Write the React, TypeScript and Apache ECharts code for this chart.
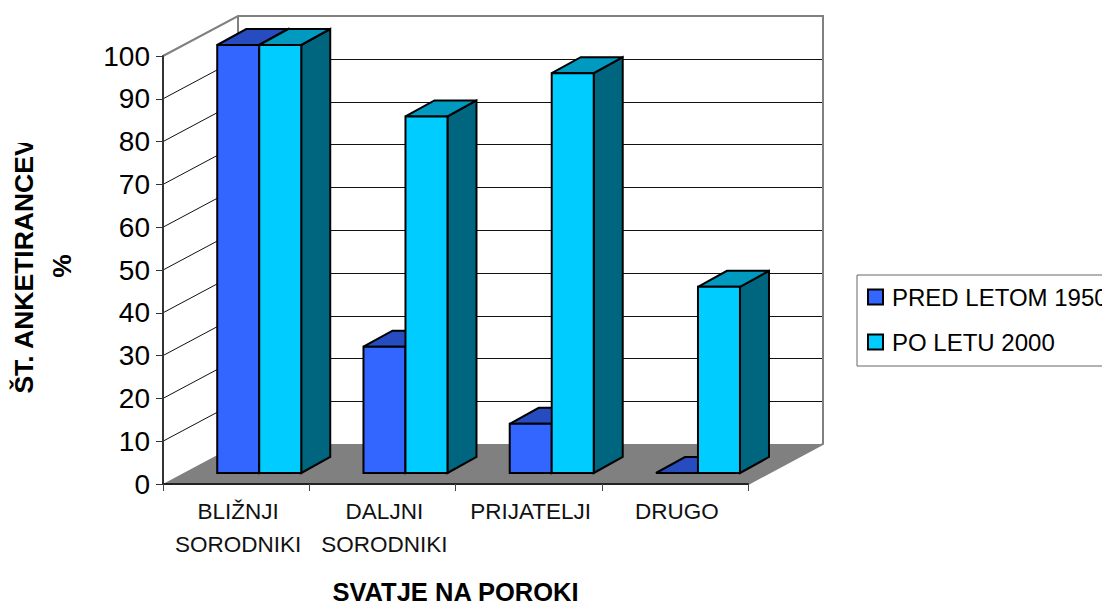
import React, { useEffect, useRef } from "react";
import * as echarts from "echarts";

const categories = ["BLIŽNJI\nSORODNIKI", "DALJNI\nSORODNIKI", "PRIJATELJI", "DRUGO"];
const before1950 = [100, 29.5, 11.5, 0];
const after2000 = [100, 83.3, 93.4, 43.5];
const wallTicks = [10, 20, 30, 40, 50, 60, 70, 80, 90];
const seriesNames = ["PRED LETOM 1950", "PO LETU 2000"];
const yName = "ŠT. ANKETIRANCEV\n%";
const xName = "SVATJE NA POROKI";

const FONT = "'Liberation Sans', Arial, sans-serif";
const WALL_DX = 75;
const WALL_DY = -40;
const BAR_DX = 29;
const BAR_DY = -16;
const FLOOR_DX = 20;
const FLOOR_DY = -11;
const GROUP_SHIFT = -38.9;
const BAR_W = 42;
const GRAY = "#808080";

function snap(v: number) {
  return Math.round(v) + 0.5;
}

function barRenderer(slot: number, front: string, top: string, side: string) {
  return (_p: any, api: any) => {
    const c = api.coord([api.value(0), api.value(1)]);
    const b = api.coord([api.value(0), 0]);
    const x0 = c[0] + GROUP_SHIFT + FLOOR_DX + slot * BAR_W;
    const x1 = x0 + BAR_W;
    const yTop = c[1] + FLOOR_DY;
    const yBase = b[1] + FLOOR_DY;
    const stroke = { stroke: "#000", lineWidth: 2, lineJoin: "miter" };
    const poly = (points: number[][], fill: string) => ({
      type: "polygon",
      shape: { points },
      style: { fill, ...stroke },
    });
    return {
      type: "group",
      children: [
        poly(
          [[x1, yBase], [x1 + BAR_DX, yBase + BAR_DY], [x1 + BAR_DX, yTop + BAR_DY], [x1, yTop]],
          side
        ),
        poly(
          [[x0, yTop], [x0 + BAR_DX, yTop + BAR_DY], [x1 + BAR_DX, yTop + BAR_DY], [x1, yTop]],
          top
        ),
        poly([[x0, yBase], [x1, yBase], [x1, yTop], [x0, yTop]], front),
      ],
    };
  };
}

function wallLineRenderer(_p: any, api: any) {
  const w = api.size([1, 0])[0];
  const left = api.coord([0, api.value(0)])[0] - w / 2;
  const right = api.coord([categories.length - 1, api.value(0)])[0] + w / 2;
  const y = api.coord([0, api.value(0)])[1];
  const line = (x1: number, y1: number, x2: number, y2: number) => ({
    type: "line",
    shape: { x1, y1, x2, y2 },
    style: { stroke: "#111", lineWidth: 1 },
  });
  const by = snap(y + WALL_DY);
  return {
    type: "group",
    children: [
      line(left, y, left + WALL_DX, y + WALL_DY),
      line(left + WALL_DX, by, right + WALL_DX, by),
    ],
  };
}

function frameRenderer(_p: any, api: any) {
  const w = api.size([1, 0])[0];
  const left = api.coord([0, 0])[0] - w / 2;
  const right = api.coord([categories.length - 1, 0])[0] + w / 2;
  const y0 = api.coord([0, 0])[1];
  const y100 = api.coord([0, 100])[1];
  const st = { stroke: GRAY, lineWidth: 2, fill: "none" };
  return {
    type: "group",
    children: [
      {
        type: "polygon",
        shape: {
          points: [[left, y0], [left + WALL_DX, y0 + WALL_DY], [right + WALL_DX, y0 + WALL_DY], [right, y0]],
        },
        style: { fill: GRAY },
      },
      {
        type: "polyline",
        shape: {
          points: [
            [left, y100],
            [left + WALL_DX, y100 + WALL_DY],
            [right + WALL_DX, y100 + WALL_DY],
            [right + WALL_DX, y0 + WALL_DY],
            [right, y0],
          ],
        },
        style: st,
      },
      {
        type: "line",
        shape: { x1: left + WALL_DX, y1: y100 + WALL_DY, x2: left + WALL_DX, y2: y0 + WALL_DY },
        style: { stroke: GRAY, lineWidth: 2 },
      },
    ],
  };
}

export default function App() {
  const ref = useRef<HTMLDivElement>(null);
  useEffect(() => {
    const chart = echarts.init(ref.current!, undefined, { renderer: "svg" });
    chart.setOption({
      animation: false,
      backgroundColor: "#fff",
      textStyle: { fontFamily: FONT },
      grid: { left: 163, top: 56, width: 585, height: 428, containLabel: false, outerBoundsMode: "none" },
      xAxis: {
        type: "category",
        data: categories,
        z: 3,
        name: xName,
        nameLocation: "middle",
        nameGap: 95,
        nameMoveOverlap: false,
        nameTextStyle: { fontFamily: FONT, fontSize: 25.5, fontWeight: "bold", color: "#000" },
        axisLine: { lineStyle: { color: "#222", width: 2 } },
        axisTick: { show: true, length: 7, alignWithLabel: false, lineStyle: { color: "#444", width: 1 } },
        axisLabel: {
          interval: 0,
          margin: 11,
          hideOverlap: false,
          fontFamily: FONT,
          fontSize: 22.5,
          lineHeight: 33,
          color: "#111",
          padding: [0, 0, 0, 4],
        },
        splitLine: { show: false },
      },
      yAxis: {
        type: "value",
        min: 0,
        max: 100,
        interval: 10,
        z: 3,
        name: yName,
        nameLocation: "middle",
        nameRotate: 90,
        nameGap: 82.5,
        nameMoveOverlap: false,
        nameTextStyle: {
          fontFamily: FONT,
          fontSize: 26.5,
          fontWeight: "bold",
          color: "#000",
          lineHeight: 38,
          padding: [0, 0, 0, 8],
        },
        axisLine: { show: true, lineStyle: { color: "#333", width: 2 } },
        axisTick: { show: true, length: 7, lineStyle: { color: "#333", width: 1 } },
        axisLabel: { margin: 13, fontFamily: FONT, fontSize: 28, color: "#000" },
        splitLine: { show: false },
      },
      legend: {
        show: true,
        data: seriesNames,
        orient: "vertical",
        left: 857,
        top: 275,
        padding: [10, 30, 12, 10],
        itemWidth: 15,
        itemHeight: 15,
        itemGap: 21,
        icon: "rect",
        backgroundColor: "#fff",
        borderColor: "#666",
        borderWidth: 1,
        textStyle: { fontFamily: FONT, fontSize: 24, color: "#000", padding: [0, 0, 0, 4] },
        itemStyle: { borderColor: "#000", borderWidth: 2 },
      },
      graphic: [
        {
          type: "rect",
          z: 50,
          shape: { x: 0, y: 0, width: 60, height: 143 },
          style: { fill: "#fff" },
        },
      ],
      series: [
        {
          type: "custom",
          name: "walls",
          z: 1,
          data: wallTicks.map((v) => [v]),
          encode: { y: 0 },
          renderItem: wallLineRenderer,
          silent: true,
        },
        {
          type: "custom",
          name: "frame",
          z: 2,
          data: [[0]],
          encode: { y: 0 },
          renderItem: frameRenderer,
          silent: true,
        },
        {
          type: "custom",
          name: seriesNames[0],
          z: 4,
          itemStyle: { color: "#3366FF" },
          data: before1950.map((v, i) => [i, v]),
          encode: { x: 0, y: 1 },
          renderItem: barRenderer(0, "#3366FF", "#264CBF", "#1A3380"),
        },
        {
          type: "custom",
          name: seriesNames[1],
          z: 5,
          itemStyle: { color: "#00CCFF" },
          data: after2000.map((v, i) => [i, v]),
          encode: { x: 0, y: 1 },
          renderItem: barRenderer(1, "#00CCFF", "#0099BF", "#006680"),
        },
      ],
    });
    return () => chart.dispose();
  }, []);
  return (
    <div
      ref={ref}
      style={{ position: "fixed", left: 0, top: 0, width: 1102, height: 602, overflow: "hidden" }}
    />
  );
}
